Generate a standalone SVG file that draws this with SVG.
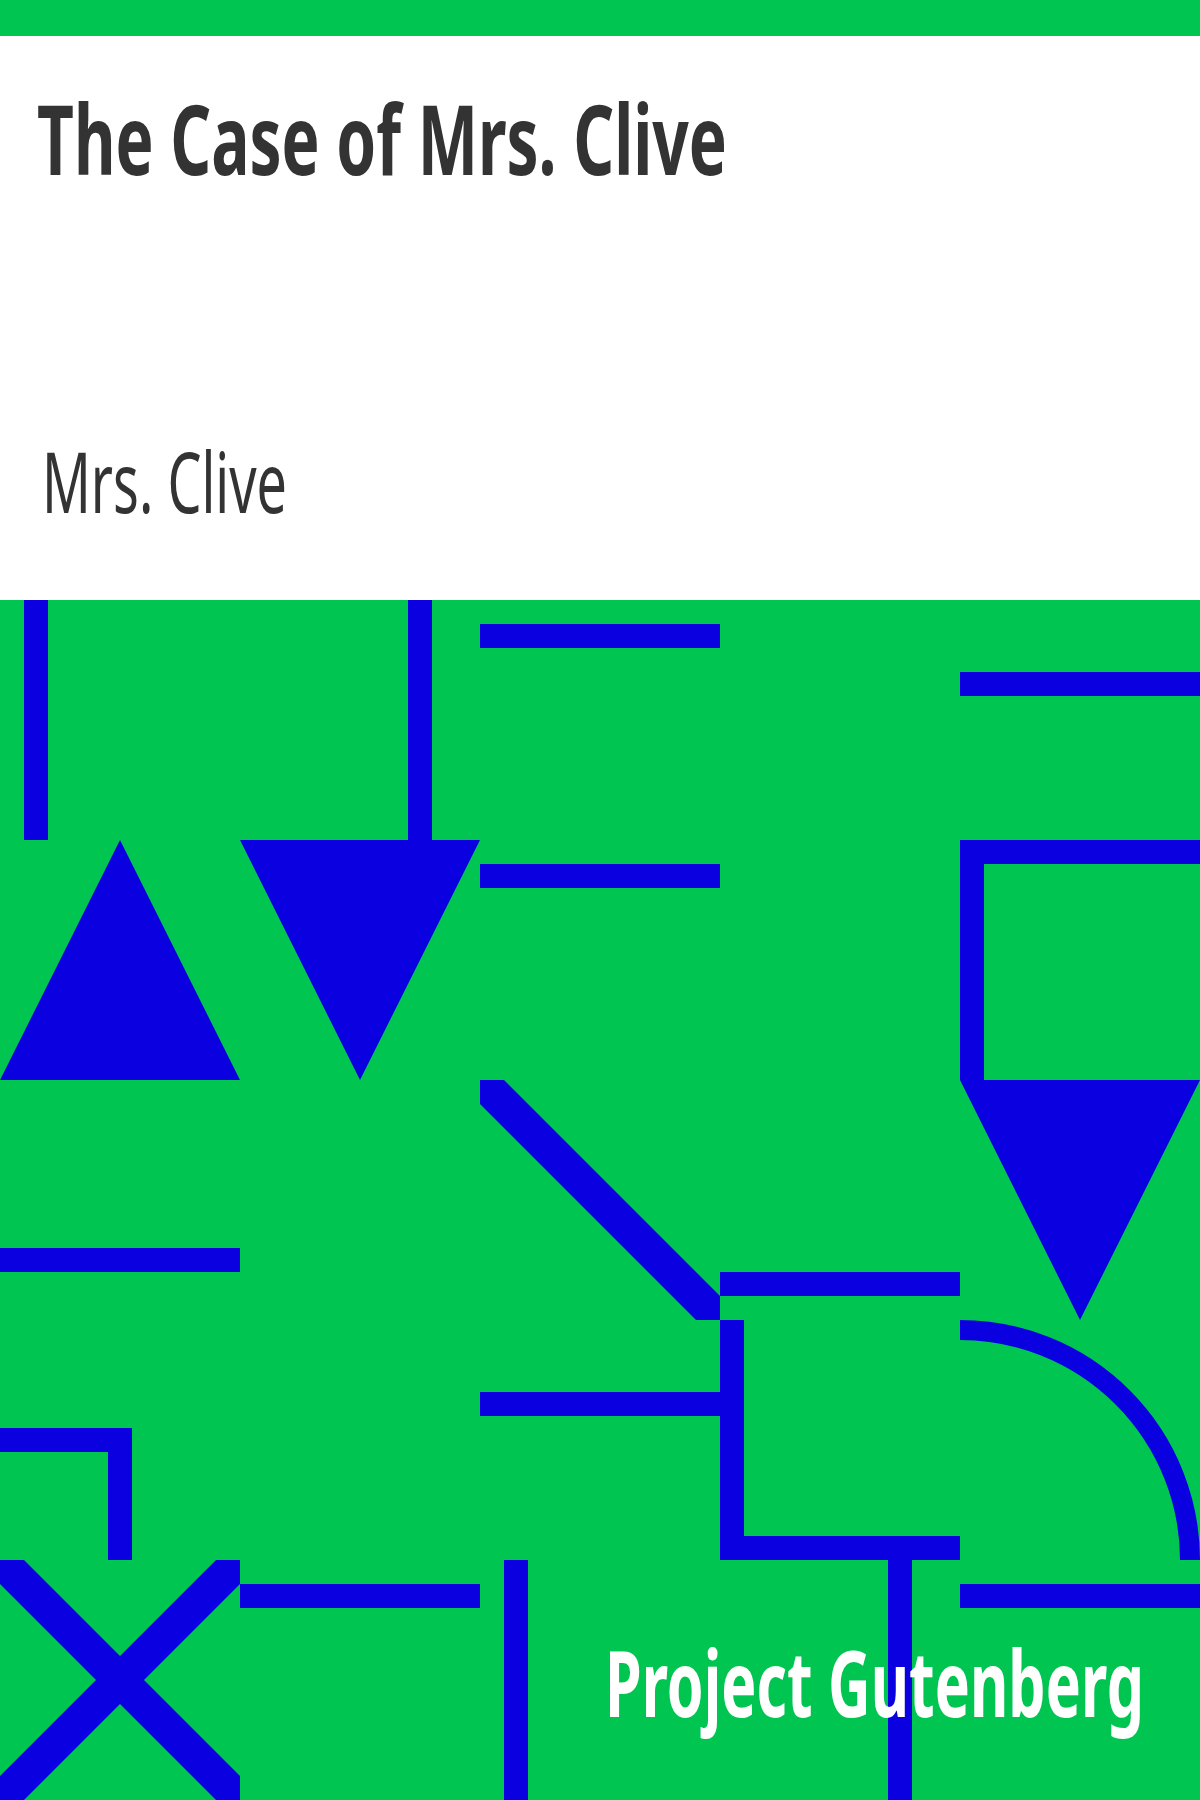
<svg xmlns="http://www.w3.org/2000/svg" width="1200" height="1800" viewBox="0 0 1200 1800">
<style>
.bg{fill:#00c551}
.s{fill:#0b00e0}
.arc{fill:none;stroke:#0b00e0;stroke-width:20}
.title{font-family:"Noto Sans","Open Sans","Liberation Sans",sans-serif;font-weight:bold;fill:#333333}
.author{font-family:"Noto Sans","Open Sans","Liberation Sans",sans-serif;font-weight:normal;fill:#333333}
.pg{font-family:"Noto Sans","Open Sans","Liberation Sans",sans-serif;font-weight:bold;fill:#ffffff}
</style>
<rect x="0" y="0" width="1200" height="1800" fill="#ffffff"/>
<rect class="bg" x="0" y="0" width="1200" height="36"/>
<g id="title-block">
<text class="title" x="37" y="175" font-size="96" textLength="690" lengthAdjust="spacingAndGlyphs">The Case of Mrs. Clive</text>
<text class="author" x="42" y="513" font-size="84" textLength="245" lengthAdjust="spacingAndGlyphs">Mrs. Clive</text>
</g>
<rect class="bg" x="0" y="600" width="1200" height="1200"/>
<g id="pattern">
<!-- row 0 -->
<rect class="s" x="24" y="600" width="24" height="240"/>
<rect class="s" x="408" y="600" width="24" height="240"/>
<rect class="s" x="480" y="624" width="240" height="24"/>
<rect class="s" x="960" y="672" width="240" height="24"/>
<!-- row 1 -->
<polygon class="s" points="0,1080 120,840 240,1080"/>
<polygon class="s" points="240,840 480,840 360,1080"/>
<rect class="s" x="480" y="864" width="240" height="24"/>
<path class="s" d="M960,840 H1200 V864 H984 V1080 H960 Z"/>
<!-- row 2 -->
<rect class="s" x="0" y="1248" width="240" height="24"/>
<polygon class="s" points="480,1080 504,1080 720,1296 720,1320 696,1320 480,1104"/>
<rect class="s" x="720" y="1272" width="240" height="24"/>
<polygon class="s" points="960,1080 1200,1080 1080,1320"/>
<!-- row 3 -->
<path class="s" d="M0,1428 H132 V1560 H108 V1452 H0 Z"/>
<rect class="s" x="480" y="1392" width="240" height="24"/>
<path class="s" d="M720,1320 H744 V1536 H960 V1560 H720 Z"/>
<path class="arc" d="M960,1330 A230,230 0 0 1 1190,1560"/>
<!-- row 4 -->
<polygon class="s" points="0,1560 24,1560 240,1776 240,1800 216,1800 0,1584"/>
<polygon class="s" points="216,1560 240,1560 240,1584 24,1800 0,1800 0,1776"/>
<rect class="s" x="240" y="1584" width="240" height="24"/>
<rect class="s" x="504" y="1560" width="24" height="240"/>
<rect class="s" x="888" y="1560" width="24" height="240"/>
<rect class="s" x="960" y="1584" width="240" height="24"/>
</g>
<g id="publisher">
<text class="pg" x="605" y="1717" font-size="91" textLength="539" lengthAdjust="spacingAndGlyphs">Project Gutenberg</text>
</g>
</svg>
